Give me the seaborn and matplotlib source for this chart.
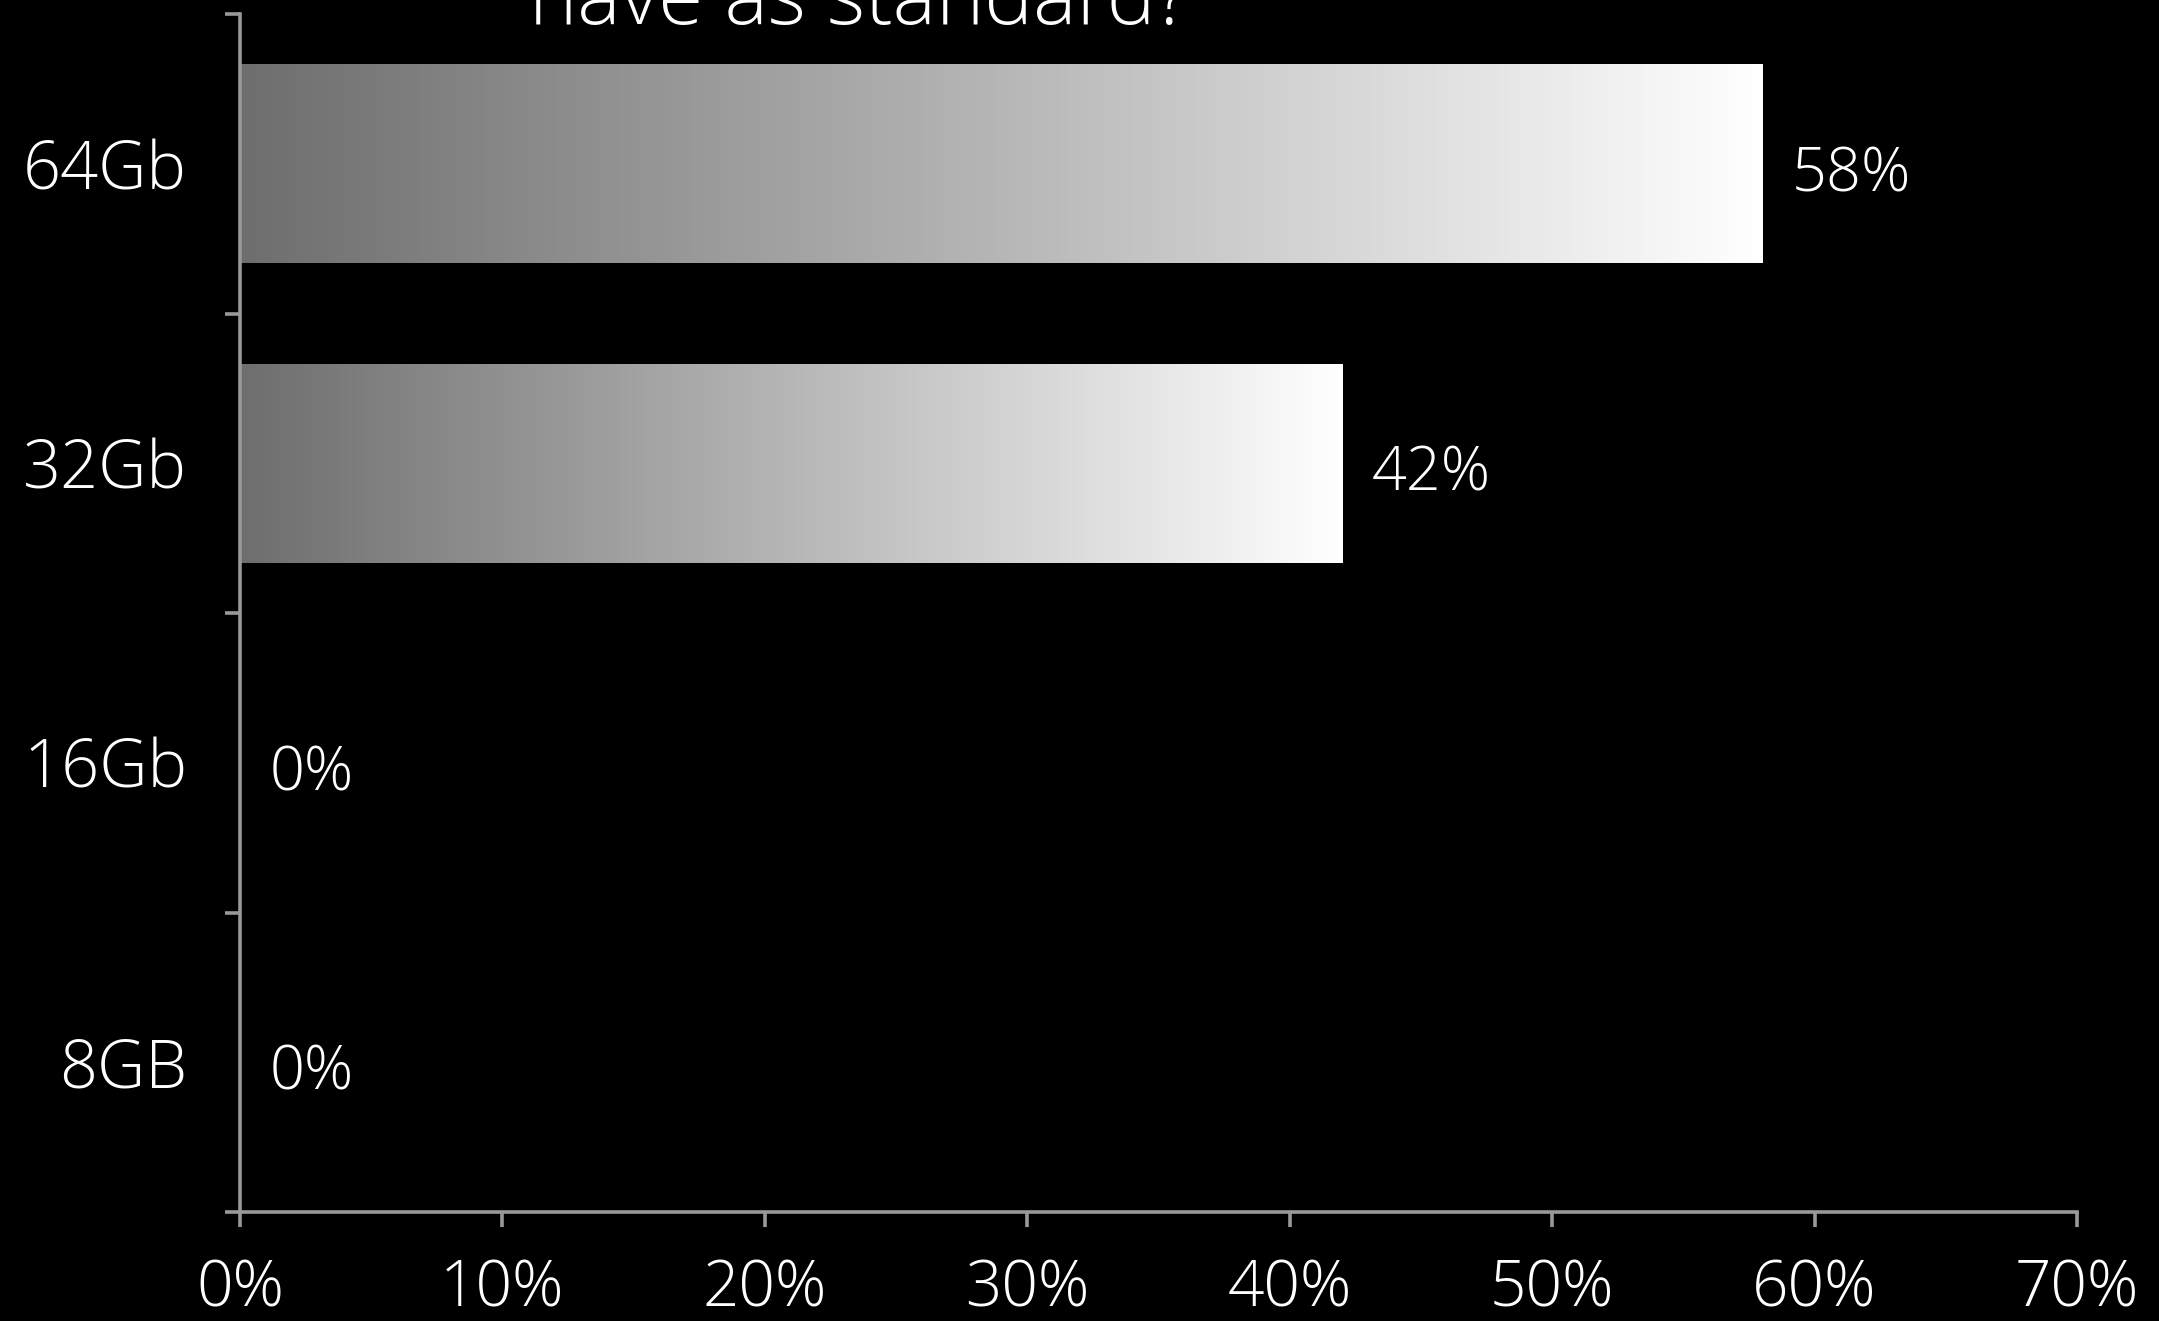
import numpy as np
import pandas as pd
import matplotlib
matplotlib.use("Agg")
import matplotlib.pyplot as plt
from matplotlib.colors import LinearSegmentedColormap
from matplotlib.ticker import FixedLocator, FuncFormatter
import seaborn as sns

categories = ["64Gb", "32Gb", "16Gb", "8GB"]
values = [58, 42, 0, 0]
x_ticks = [0, 10, 20, 30, 40, 50, 60, 70]
title_line = "have as standard?"

sns.set_theme(style="white")
plt.rcParams["font.family"] = ["Open Sans", "DejaVu Sans"]
plt.rcParams["font.weight"] = "light"

W, H, DPI = 2159, 1321, 100
fig = plt.figure(figsize=(W / DPI, H / DPI), dpi=DPI, facecolor="black")
ax = fig.add_axes([240 / W, 1 - 1212 / H, (2077 - 240) / W, (1212 - 14) / H])
ax.set_facecolor("black")

df = pd.DataFrame({"cat": categories, "val": values})
sns.barplot(data=df, x="val", y="cat", order=categories, orient="h",
            width=0.665, color="#888888", ax=ax, linewidth=0)

cmap = LinearSegmentedColormap.from_list("g", ["#6e6e6e", "#ffffff"])
grad = np.linspace(0, 1, 512).reshape(1, -1)
for p in ax.patches:
    x0, y0 = p.get_x(), p.get_y()
    w, h = p.get_width(), p.get_height()
    if w <= 0:
        p.set_visible(False)
        continue
    im = ax.imshow(grad, cmap=cmap, aspect="auto",
                   extent=[x0, x0 + w, y0 + h, y0], zorder=2,
                   interpolation="bilinear")
    im.set_clip_path(p)
    p.set_facecolor("none")

ax.set_xlim(0, 70)
ax.set_ylim(len(categories) - 0.5, -0.5)

spine_col = "#999999"
for s in ["top", "right"]:
    ax.spines[s].set_visible(False)
for s in ["left", "bottom"]:
    ax.spines[s].set_color(spine_col)
    ax.spines[s].set_linewidth(2.6)

ax.set_xticks(x_ticks)
ax.xaxis.set_major_formatter(FuncFormatter(lambda v, pos: f"{int(round(v))}%"))
ax.tick_params(axis="x", which="major", length=11, width=2.6, color=spine_col,
               labelsize=46, labelcolor="white", pad=22, bottom=True)
ax.set_yticks(range(len(categories)))
ax.set_yticklabels(categories)
ax.tick_params(axis="y", which="major", length=0, labelsize=48,
               labelcolor="white", pad=38, left=False)
ax.yaxis.set_minor_locator(FixedLocator(np.arange(-0.5, len(categories), 1.0)))
ax.tick_params(axis="y", which="minor", length=11, width=2.6, color=spine_col, left=True)
for lbl in ax.get_xticklabels() + ax.get_yticklabels():
    lbl.set_fontweight("light")

ax.set_xlabel("")
ax.set_ylabel("")

for i, v in enumerate(values):
    ax.annotate(f"{v}%", xy=(v, i), xytext=(21, -3),
                textcoords="offset points", va="center_baseline", ha="left",
                color="white", fontsize=44, fontweight="light")

fig.text(860 / W, 1 - 24 / H, title_line, ha="center", va="baseline",
         color="white", fontsize=59, fontweight="light")

fig.savefig("out.png", dpi=DPI, facecolor="black")
